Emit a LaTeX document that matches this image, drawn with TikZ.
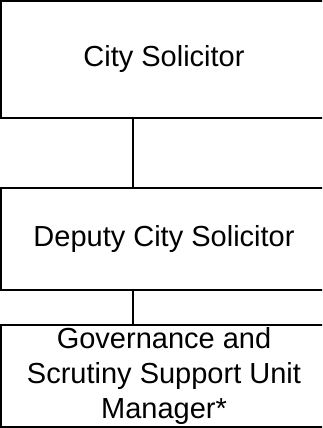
\documentclass[tikz,border=0pt]{standalone}
\usepackage{fontspec}
\setmainfont{Liberation Sans}
\begin{document}
\begin{tikzpicture}[x=1pt,y=1pt,
  orgbox/.style={draw=black, line width=1.5pt, fill=white, minimum width=326pt, inner sep=0pt, align=center, font=\fontsize{29}{35}\selectfont},
  link/.style={draw=black, line width=1.5pt}]
\clip (0,0) rectangle (322,-428);
\useasboundingbox (0,0) rectangle (322,-428);
\node[orgbox, minimum height=117pt] (b1) at (164,-59.5) {City Solicitor};
\node[orgbox, minimum height=102pt] (b2) at (164,-239) {Deputy City Solicitor};
\node[orgbox, minimum height=102pt] (b3) at (164,-376) {Governance and\\Scrutiny Support Unit\\Manager*};
\coordinate (cx) at (133,0);
\draw[link] (b1.south -| cx) -- (b2.north -| cx);
\draw[link] (b2.south -| cx) -- (b3.north -| cx);
\end{tikzpicture}
\end{document}
